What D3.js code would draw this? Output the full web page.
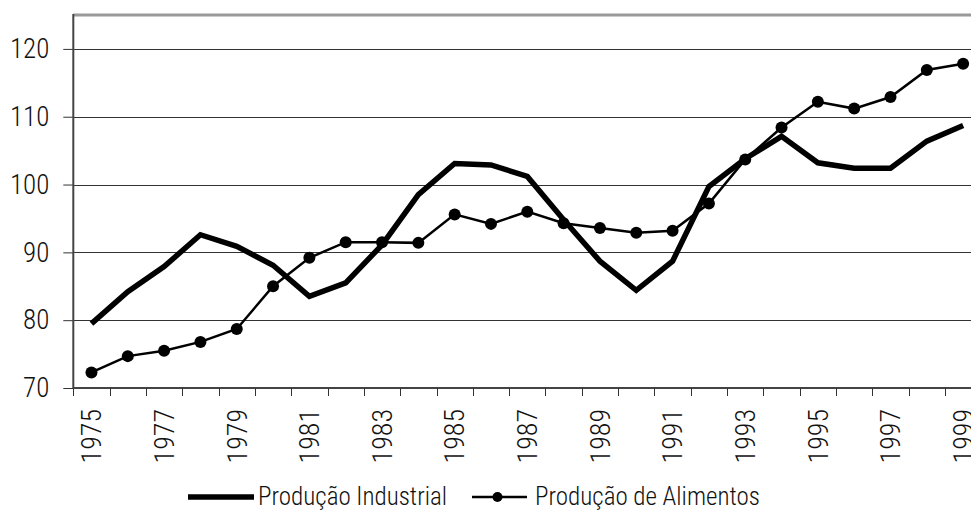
<!DOCTYPE html>
<html lang="pt">
<head>
  <meta charset="UTF-8">
  <title>Produção Industrial e de Alimentos</title>
  <style>
    body { margin: 0; background: #fff; }
    svg { display: block; }
    text { font-family: "Roboto Condensed", "Liberation Sans Narrow", "Liberation Sans", sans-serif; font-weight: 300; fill: #111; }
  </style>
  <script src="https://d3js.org/d3.v7.min.js"></script>
</head>
<body>
<svg width="971" height="511"></svg>
<script>
  const years = d3.range(1975, 2000);
  const industrial = [79.5, 84.2, 87.9, 92.6, 90.9, 88.1, 83.5, 85.5, 91.1, 98.5, 103.1, 102.9, 101.2,
                      94.8, 88.7, 84.4, 88.7, 99.7, 103.8, 107.1, 103.2, 102.4, 102.4, 106.4, 108.7];
  const alimentos = [72.3, 74.7, 75.5, 76.8, 78.7, 85.0, 89.2, 91.5, 91.5, 91.4, 95.6, 94.2, 96.0,
                     94.3, 93.6, 92.9, 93.2, 97.2, 103.7, 108.4, 112.2, 111.2, 112.9, 116.9, 117.8];
  const yTicks = [70, 80, 90, 100, 110, 120];
  const seriesNames = ["Produção Industrial", "Produção de Alimentos"];

  const svg = d3.select("svg");
  const plotLeft = 73.3, plotRight = 981.3, plotTop = 15, plotBottom = 388;

  const x = d3.scaleBand().domain(years).range([plotLeft, plotRight]);
  const y = d3.scaleLinear().domain([70, 125]).range([plotBottom, plotTop]);
  const cx = d => x(d) + x.bandwidth() / 2;

  // gridlines
  svg.append("g")
    .selectAll("line")
    .data(yTicks.filter(d => d > 70))
    .enter().append("line")
      .attr("x1", plotLeft).attr("x2", 971)
      .attr("y1", d => Math.round(y(d)) + 0.5).attr("y2", d => Math.round(y(d)) + 0.5)
      .attr("stroke", "#333").attr("stroke-width", 1);

  // top border
  svg.append("line")
    .attr("x1", plotLeft).attr("x2", 971)
    .attr("y1", plotTop).attr("y2", plotTop)
    .attr("stroke", "#999").attr("stroke-width", 3);

  // y axis
  const yAxis = svg.append("g")
    .attr("transform", `translate(${plotLeft},0)`)
    .call(d3.axisLeft(y).tickValues(yTicks).tickSize(10).tickPadding(14));
  yAxis.select(".domain").remove();
  yAxis.selectAll(".tick line").attr("stroke", "#333");
  yAxis.selectAll("text").style("font-size", "27px").style("font-family", null).attr("fill", "#111");
  svg.append("line")
    .attr("x1", plotLeft).attr("x2", plotLeft).attr("y1", plotTop - 1).attr("y2", plotBottom)
    .attr("stroke", "#444").attr("stroke-width", 2);

  // x axis: ticks at band boundaries, labels every other year
  const xAxis = svg.append("g").attr("transform", `translate(0,${plotBottom})`);
  xAxis.append("line")
    .attr("x1", plotLeft).attr("x2", 971)
    .attr("stroke", "#444").attr("stroke-width", 2);
  xAxis.selectAll("line.tk")
    .data(years)
    .enter().append("line")
      .attr("class", "tk")
      .attr("x1", d => Math.round(x(d)) + 0.5).attr("x2", d => Math.round(x(d)) + 0.5)
      .attr("y1", 0).attr("y2", 8)
      .attr("stroke", "#333");
  xAxis.selectAll("text")
    .data(years.filter(d => d % 2 === 1))
    .enter().append("text")
      .attr("transform", d => `translate(${cx(d)},21) rotate(-90)`)
      .attr("text-anchor", "end")
      .attr("dy", "0.35em")
      .style("font-size", "28px")
      .text(d => d);

  // series
  const line = d3.line().x((d, i) => cx(years[i])).y(d => y(d));

  svg.append("path")
    .datum(industrial)
    .attr("d", line)
    .attr("fill", "none")
    .attr("stroke", "#000")
    .attr("stroke-width", 5.5);

  svg.append("path")
    .datum(alimentos)
    .attr("d", line)
    .attr("fill", "none")
    .attr("stroke", "#000")
    .attr("stroke-width", 2.5);

  svg.append("g")
    .selectAll("circle")
    .data(alimentos)
    .enter().append("circle")
      .attr("cx", (d, i) => cx(years[i]))
      .attr("cy", d => y(d))
      .attr("r", 6)
      .attr("fill", "#000");

  // legend
  const lg = svg.append("g").attr("transform", "translate(0,497)");
  lg.append("line").attr("x1", 188).attr("x2", 254)
    .attr("stroke", "#000").attr("stroke-width", 5.5);
  lg.append("text").attr("x", 258).attr("y", 8).style("font-size", "25px").text(seriesNames[0]);
  lg.append("line").attr("x1", 472).attr("x2", 527)
    .attr("stroke", "#000").attr("stroke-width", 2.5);
  lg.append("circle").attr("cx", 497.5).attr("cy", 0).attr("r", 5).attr("fill", "#000");
  lg.append("text").attr("x", 535).attr("y", 8).style("font-size", "25px").text(seriesNames[1]);
</script>
</body>
</html>
